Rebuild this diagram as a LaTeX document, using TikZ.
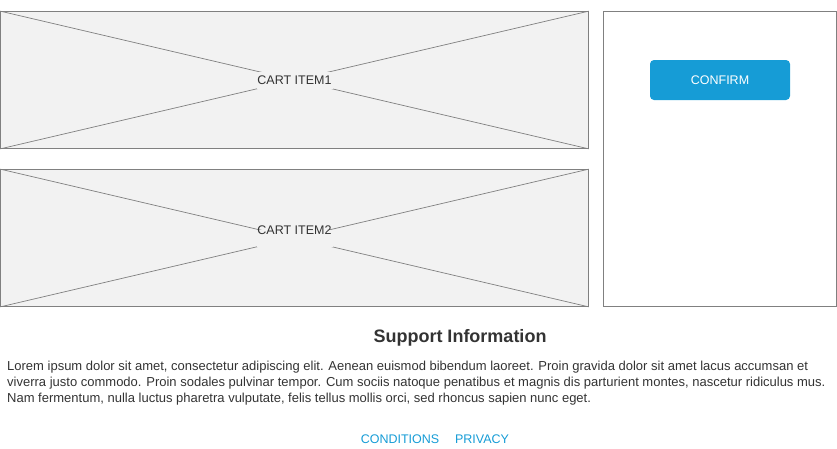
\documentclass[tikz,border=0pt]{standalone}
\usepackage{fontspec}
\setmainfont{Liberation Sans}
\definecolor{mockblue}{HTML}{169CD6}
\definecolor{mockfill}{HTML}{F2F2F2}
\definecolor{mockline}{HTML}{808080}
\definecolor{mocktext}{HTML}{333333}
\begin{document}
\begin{tikzpicture}[x=1pt, y=-1pt,
    itembox/.style={draw=mockline, fill=mockfill, line width=0.8pt, inner sep=0pt},
    cross/.style={mockline, line width=0.7pt},
    labelmask/.style={fill=mockfill, inner sep=0pt, minimum width=76pt, minimum height=17pt},
    itemlabel/.style={inner sep=0pt, text=mocktext, font=\fontsize{12.5}{15}\selectfont},
    panel/.style={draw=mockline, line width=0.8pt, inner sep=0pt},
    button/.style={fill=mockblue, rounded corners=4pt, text=white, font=\fontsize{12.5}{15}\selectfont},
    link/.style={text=mockblue, inner sep=0pt, font=\fontsize{12.5}{15}\selectfont}]
    \useasboundingbox (0,0) rectangle (837,448);
        % cart items
        \node[itembox, minimum width=588pt, minimum height=137pt] (item1) at (294.5,80) {};
        \draw[cross] (item1.north west) -- (item1.south east);
        \draw[cross] (item1.south west) -- (item1.north east);
        \node[labelmask] (mask1) at (item1.center) {};
        \node[itemlabel] (label1) at (294.5,80) {CART ITEM1};
        \node[itembox, minimum width=588pt, minimum height=137pt] (item2) at (294.5,238) {};
        \draw[cross] (item2.north west) -- (item2.south east);
        \draw[cross] (item2.south west) -- (item2.north east);
        \node[labelmask] (mask2) at (item2.center) {};
        \node[itemlabel] (label2) at (294.5,230) {CART ITEM2};
        % side panel
        \node[panel, minimum width=233pt, minimum height=295pt] (side) at (720,159) {};
        \node[button, minimum width=140pt, minimum height=40pt] (confirm) at (720,80) {CONFIRM};
        % footer
        \node[text=mocktext, font=\bfseries\fontsize{18}{21}\selectfont] (title) at (460,338) {Support Information};
        \node[anchor=north west, inner sep=0pt, align=left, text=mocktext,
              font=\fontsize{13}{16}\selectfont] (info) at (7,360.5)
            {Lorem ipsum dolor sit amet, consectetur adipiscing elit. Aenean euismod bibendum laoreet. Proin gravida dolor sit amet lacus accumsan et\\
             viverra justo commodo. Proin sodales pulvinar tempor. Cum sociis natoque penatibus et magnis dis parturient montes, nascetur ridiculus mus.\\
             Nam fermentum, nulla luctus pharetra vulputate, felis tellus mollis orci, sed rhoncus sapien nunc eget.};
        \node[link, anchor=base] (conditions) at (400,443) {CONDITIONS};
        \node[link, anchor=base] (privacy) at (482,443) {PRIVACY};
\end{tikzpicture}
\end{document}
